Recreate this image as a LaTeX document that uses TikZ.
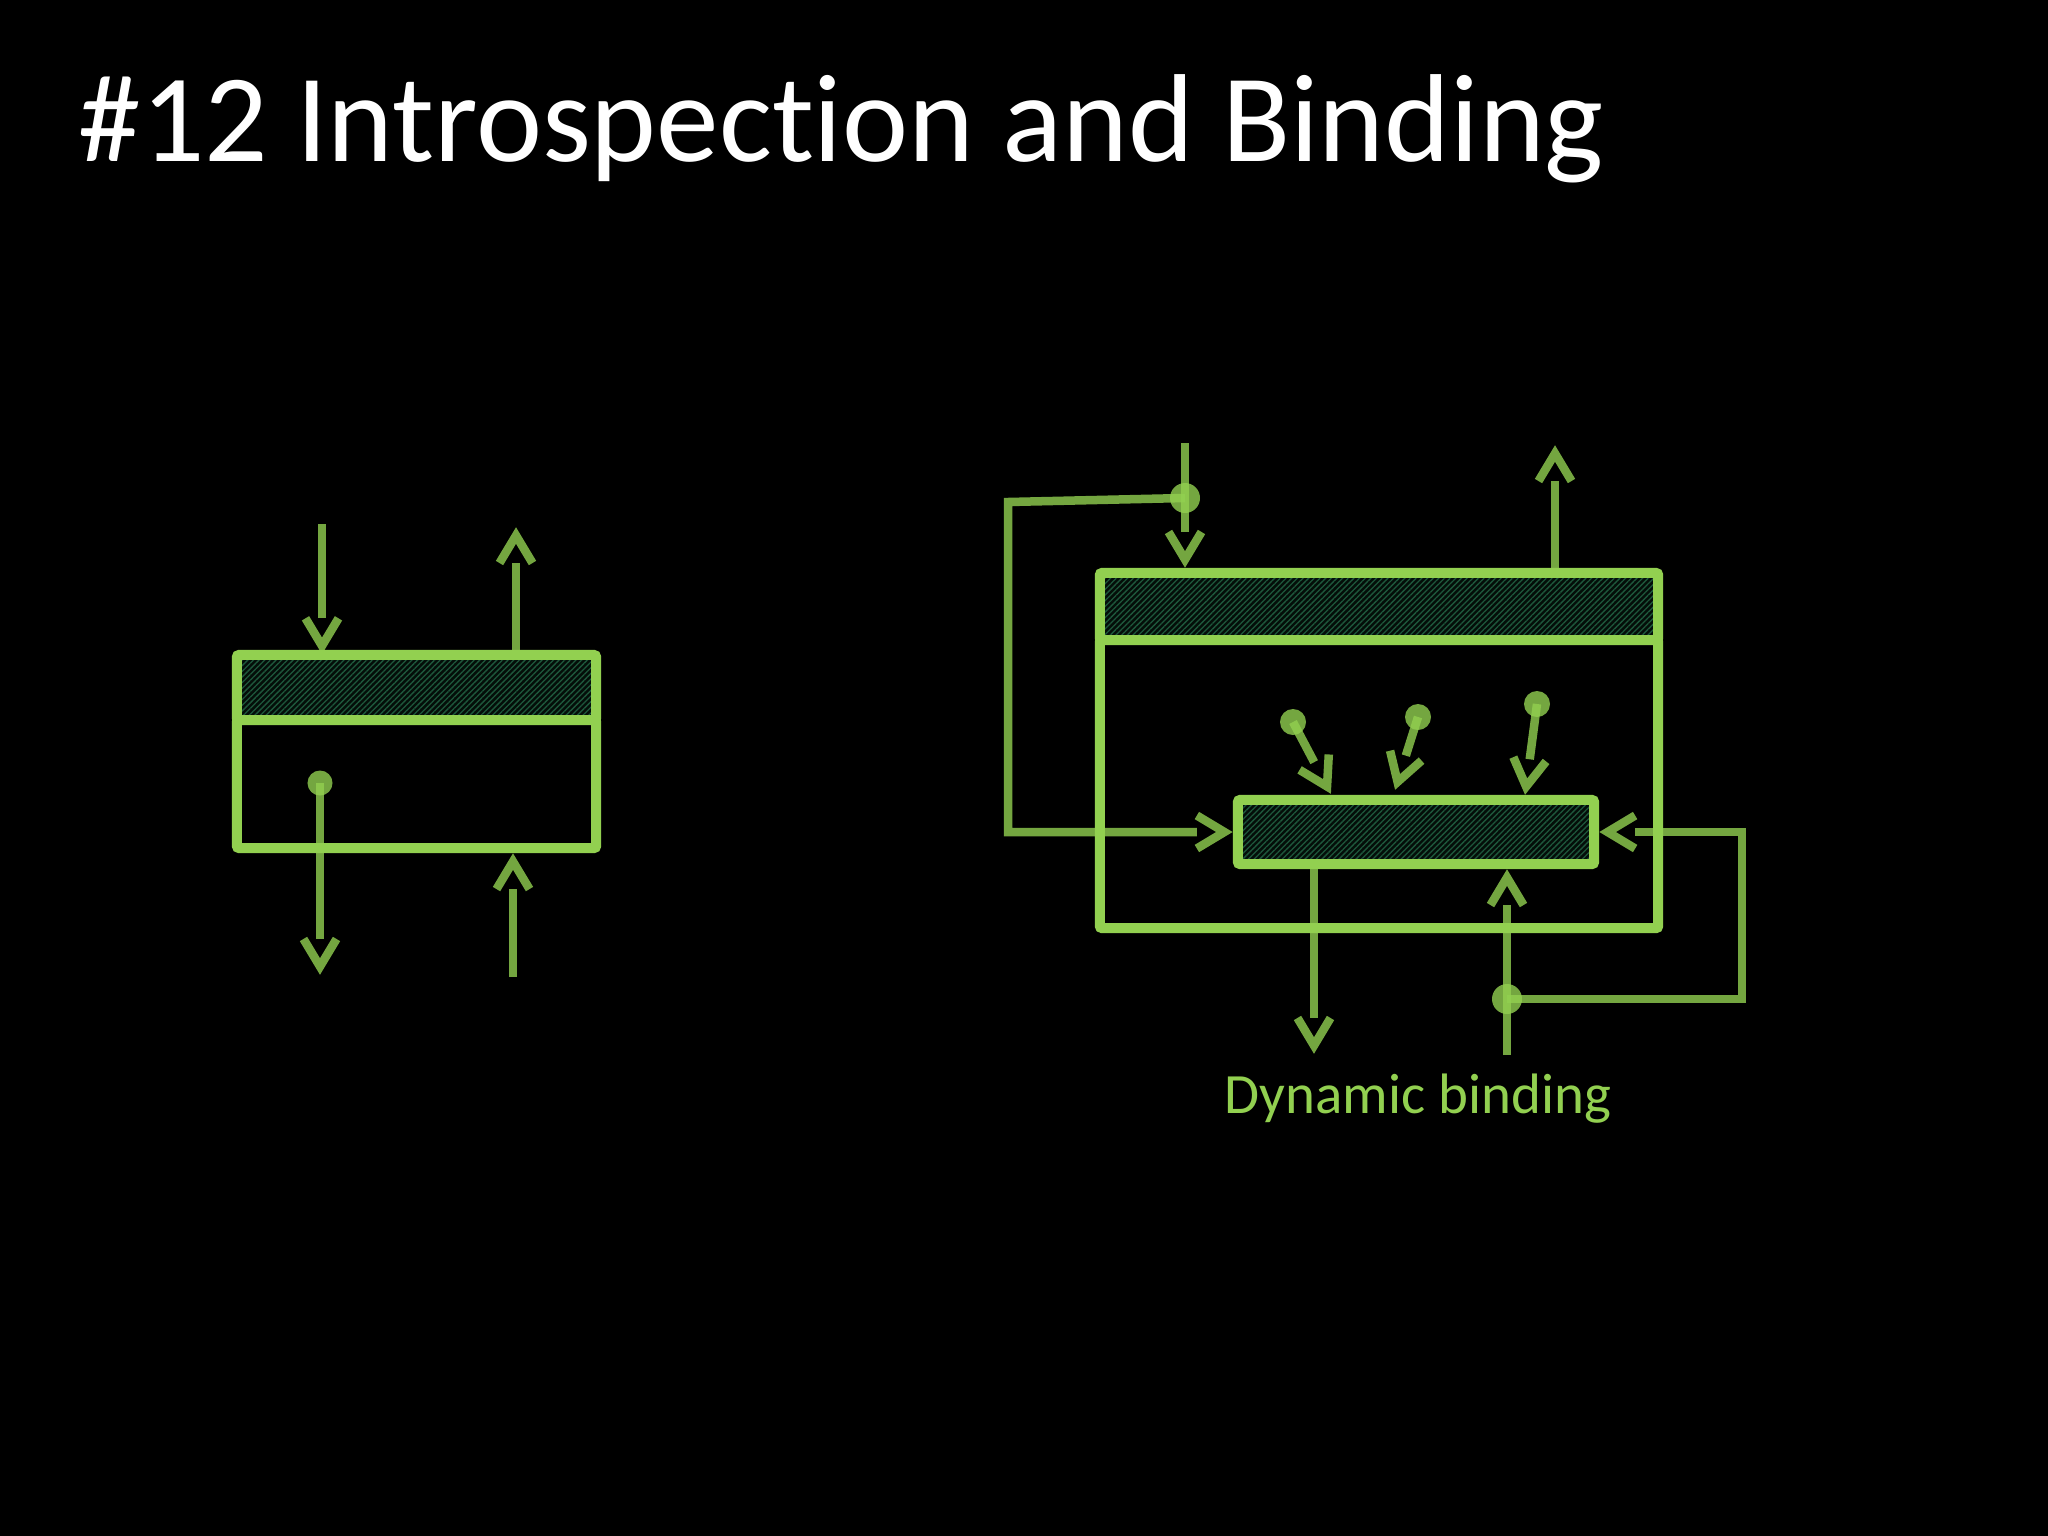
\documentclass[tikz,border=0pt]{standalone}
\usepackage{fontspec}
\setmainfont{Carlito}[Ligatures=NoCommon]
\usetikzlibrary{arrows.meta,patterns.meta}
\definecolor{lime}{RGB}{146,208,80}
\definecolor{hatchbg}{RGB}{4,14,9}
\definecolor{hatch}{RGB}{30,88,60}
% open vee, shaft stops at the back of the arms
\pgfdeclarearrow{
	name=Vgap,
	parameters={\the\pgfarrowlength,\the\pgfarrowwidth,\the\pgflinewidth},
	setup code={
		\pgfarrowssettipend{0pt}
		\pgfarrowssetlineend{-\pgfarrowlength}
		\pgfarrowssetbackend{-\pgfarrowlength}
		\pgfarrowssavethe\pgfarrowlength
		\pgfarrowssavethe\pgfarrowwidth
		\pgfarrowssavethe\pgflinewidth
	},
	drawing code={
		\pgfsetdash{}{0pt}
		\pgfsetbuttcap
		\pgfsetmiterjoin
		\pgfpathmoveto{\pgfqpoint{-\pgfarrowlength}{.5\pgfarrowwidth}}
		\pgfpathlineto{\pgfqpoint{-\pgflinewidth}{0pt}}
		\pgfpathlineto{\pgfqpoint{-\pgfarrowlength}{-.5\pgfarrowwidth}}
		\pgfusepathqstroke
	},
	defaults={length=0.36cm,width=0.33cm}
}
\begin{document}
\begin{tikzpicture}[x=0.01cm,y=-0.01cm,line join=miter,
	box/.style={draw=lime,line width=0.1cm,rounded corners=0.6pt,inner sep=0pt},
	hdr/.style={box,preaction={fill=hatchbg},pattern={Lines[angle=45,distance=0.04cm,line width=0.013cm]},pattern color=hatch},
	arr/.style={draw=lime,draw opacity=0.8,line width=0.085cm,-{Vgap[length=0.36cm,width=0.33cm]}},
	dot/.style={circle,fill=lime,fill opacity=0.8,inner sep=0pt,minimum size=#1},
	dot/.default=0.25cm]
	\fill [black] (0,0) rectangle (2048,1536);
	\useasboundingbox (0,0) rectangle (2048,1536);
	\node [anchor=base west,inner sep=0pt,text=white,font=\fontsize{35.6pt}{42pt}\selectfont] (title) at (78,161) {\#12 Introspection and Binding};
	% static: one block
	\node [box,minimum width=3.59cm,minimum height=1.28cm] (lbody) at (416.5,784) {};
	\node [hdr,minimum width=3.59cm,minimum height=0.65cm] (lhdr) at (416.5,687.5) {};
	\coordinate (lin) at (322,524);
	\coordinate (lout) at (516,527);
	\coordinate (lres) at (320,975);
	\coordinate (lup) at (513,977);
	\node [dot] (ld) at (320,783) {};
	\draw [arr] (lin) -- (lin |- lhdr.north);
	\draw [arr] (lout |- lhdr.north) -- (lout);
	\draw [arr] (ld.center) -- (lres);
	\draw [arr] (lup) -- (lup |- lbody.south);
	% dynamic: block with inner binding
	\node [box,minimum width=5.58cm,minimum height=2.88cm] (rbody) at (1379,784) {};
	\node [hdr,minimum width=5.58cm,minimum height=0.67cm] (rhdr) at (1379,606.5) {};
	\node [hdr,minimum width=3.56cm,minimum height=0.64cm] (rin) at (1416,832) {};
	\coordinate (rtop) at (1185,443);
	\coordinate (rout) at (1555,445);
	\coordinate (rres) at (1314,1054);
	\coordinate (rup) at (1507,1055);
	\coordinate (q1) at (1331,794);
	\coordinate (q2) at (1395,790);
	\coordinate (q3) at (1525,795);
	\node [dot=0.3cm] (rd) at (1185,498) {};
	\node [dot=0.3cm] (rd2) at (1507,999) {};
	\node [dot=0.26cm] (p1) at (1293,722) {};
	\node [dot=0.26cm] (p2) at (1418,717) {};
	\node [dot=0.26cm] (p3) at (1537,704) {};
	\draw [arr] (rtop) -- (rtop |- rhdr.north);
	\draw [arr] (rd.center) -- (1008,502) |- (rin.west);
	\draw [arr] (rout |- rhdr.north) -- (rout);
	\draw [arr] (p1.center) -- (q1);
	\draw [arr] (p2.center) -- (q2);
	\draw [arr] (p3.center) -- (q3);
	\draw [arr] (rres |- rin.south) -- (rres);
	\draw [arr] (rup) -- (rup |- rin.south);
	\draw [arr] (rd2.center) -| (1742,832) -- (rin.east);
	\node [anchor=base,inner sep=0pt,text=lime,font=\fontsize{16.2pt}{19pt}\selectfont] (lbl) at (1418,1113) {Dynamic binding};
\end{tikzpicture}
\end{document}
